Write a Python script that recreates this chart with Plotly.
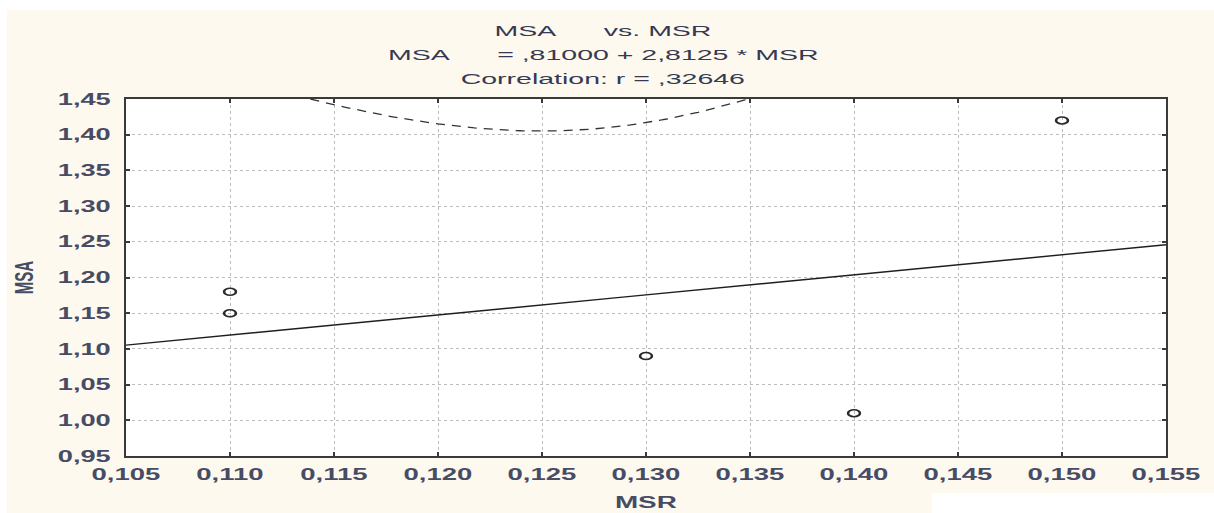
import numpy as np
import plotly.graph_objects as go

# Observations
MSR = [0.110, 0.110, 0.130, 0.140, 0.150]
MSA = [1.18, 1.15, 1.09, 1.01, 1.42]

# Fitted regression (as printed in the header)
INTERCEPT = 0.81000
SLOPE = 2.8125
CORR_R = 0.32646
T_CRIT = 3.1824  # t(0.975, df=3)

X_RANGE = [0.105, 0.155]
Y_RANGE = [0.95, 1.45]

TITLE_LINES = [
    "MSA\u00a0\u00a0\u00a0\u00a0\u00a0\u00a0vs. MSR",
    "MSA\u00a0\u00a0\u00a0\u00a0\u00a0\u00a0= ,81000 + 2,8125 * MSR",
    "Correlation: r = ,32646",
]

# ---- regression line and 95% confidence band for the mean ----
x = np.asarray(MSR)
y = np.asarray(MSA)
n = len(x)
xs = np.linspace(X_RANGE[0], X_RANGE[1], 201)
fit = INTERCEPT + SLOPE * xs
resid = y - (INTERCEPT + SLOPE * x)
s = np.sqrt(np.sum(resid ** 2) / (n - 2))
sxx = np.sum((x - x.mean()) ** 2)
half = T_CRIT * s * np.sqrt(1.0 / n + (xs - x.mean()) ** 2 / sxx)

TEXT = "#353a52"
TICK_TEXT = "#474c64"
AXIS = "#3a3a3a"
GRID = "#bcbcbc"
CREAM = "#fef9ef"

fig = go.Figure()
fig.add_trace(go.Scatter(x=xs, y=fit, mode="lines",
                         line=dict(color="#1e1e1e", width=1.4), hoverinfo="skip"))
fig.add_trace(go.Scatter(x=xs, y=fit + half, mode="lines",
                         line=dict(color="#333333", width=1.3, dash="9px,7px"), hoverinfo="skip"))
fig.add_trace(go.Scatter(x=xs, y=fit - half, mode="lines",
                         line=dict(color="#333333", width=1.3, dash="9px,7px"), hoverinfo="skip"))
fig.add_trace(go.Scatter(x=MSR, y=MSA, mode="markers",
                         marker=dict(symbol="circle-open", size=7, color="#2a2a2a",
                                     line=dict(width=1.5))))

L, R, T, B = 126, 48, 99, 57
W, H = 1214, 513
pw, ph = W - L - R, H - T - B


def px_x(p):
    return (p - L) / pw


def px_y(p):
    return (H - B - p) / ph


# page framing: cream sheet with white strips
shapes = [
    dict(type="rect", xref="paper", yref="paper", x0=px_x(-5), x1=px_x(W + 5),
         y0=px_y(10), y1=px_y(-5), fillcolor="white", line=dict(width=0), layer="below"),
    dict(type="rect", xref="paper", yref="paper", x0=px_x(-5), x1=px_x(7),
         y0=px_y(H + 5), y1=px_y(-5), fillcolor="white", line=dict(width=0), layer="below"),
    dict(type="rect", xref="paper", yref="paper", x0=px_x(932), x1=px_x(W + 5),
         y0=px_y(H + 5), y1=px_y(493), fillcolor="white", line=dict(width=0), layer="below"),
]

annotations = []
for txt, ypix in zip(TITLE_LINES, [30, 54, 78]):
    annotations.append(dict(
        text=txt, xref="paper", yref="paper", x=px_x(603), y=px_y(ypix),
        xanchor="center", yanchor="middle", showarrow=False,
        font=dict(family="Liberation Sans, Arial", size=15, color=TEXT)))

axis_common = dict(
    showline=True, linecolor=AXIS, linewidth=2, mirror="ticks",
    ticks="inside", ticklen=4, tickcolor=AXIS, tickwidth=1.5,
    showgrid=True, gridcolor=GRID, gridwidth=1, griddash="dot",
    zeroline=False, automargin=False,
    tickfont=dict(family="Liberation Sans, Arial", size=16, color=TICK_TEXT, weight="bold"),
)

fig.update_layout(
    width=W, height=H,
    margin=dict(l=L, r=R, t=T, b=B),
    paper_bgcolor=CREAM, plot_bgcolor="white",
    separators=",.",
    showlegend=False,
    shapes=shapes,
    annotations=annotations,
    xaxis=dict(range=X_RANGE, dtick=0.005, tick0=0.105, tickformat=".3f",
               ticklabelstandoff=3,
               title=dict(text="MSR", standoff=15,
                          font=dict(family="Liberation Sans, Arial", size=16, color=TICK_TEXT, weight="bold")),
               **axis_common),
    yaxis=dict(range=Y_RANGE, dtick=0.05, tick0=0.95, tickformat=".2f",
               ticklabelstandoff=10,
               title=dict(text="MSA", standoff=46,
                          font=dict(family="Liberation Sans, Arial", size=15, color=TICK_TEXT, weight="bold")),
               **axis_common),
)

# widen the lettering and the point glyphs horizontally
post = """
function stretch(sel, sx, sy, anchor){
  document.querySelectorAll(sel).forEach(function(t){
    var b = t.getBBox();
    var cx = anchor === 'end' ? b.x + b.width : b.x + b.width/2;
    var cy = b.y + b.height/2;
    var old = t.getAttribute('transform') || '';
    t.setAttribute('transform', old + ' translate(' + cx + ',' + cy + ') scale(' + sx + ',' + sy + ') translate(' + (-cx) + ',' + (-cy) + ')');
  });
}
stretch('.xtick text', 1.72, 1, 'mid');
stretch('.ytick text', 1.7, 1, 'end');
stretch('.g-xtitle text', 1.74, 1, 'mid');
stretch('.g-ytitle text', 1, 1.7, 'mid');
stretch('.annotation-text', 1.9, 1, 'mid');
document.querySelectorAll('.scatterlayer .point').forEach(function(p){
  var old = p.getAttribute('transform') || '';
  p.setAttribute('transform', old + ' scale(1.7,1)');
});
"""

fig.write_html("out.html", post_script=post)
